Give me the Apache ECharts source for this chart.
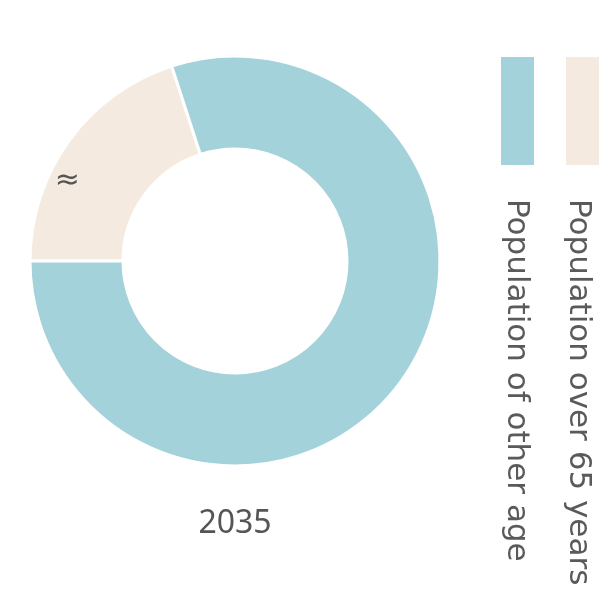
<!DOCTYPE html>
<html>
<head>
<meta charset="utf-8">
<script src="https://cdn.jsdelivr.net/npm/echarts@6/dist/echarts.min.js"></script>
<style>
  html, body { margin: 0; padding: 0; background: #fff; }
  #main { width: 613px; height: 601px; }
</style>
</head>
<body>
<div id="main"></div>
<script>
// data
const categories = ["Population over 65 years", "Population of other age"];
const values = [20, 80];
const sliceLabels = ["≈", ""];
const colors = ["#f5eadf", "#a4d2db"];
const yearTitle = "2035";

const chart = echarts.init(document.getElementById("main"));

const fontFam = "'DejaVu Sans', 'Noto Sans', sans-serif";

// legend drawn by hand, because the text is rotated
const legendX = [566, 501];
const legendTextX = [578, 516];
const legendGraphic = [];
categories.forEach(function (name, i) {
  legendGraphic.push({
    type: "rect",
    shape: { x: legendX[i], y: 57, width: 33, height: 108 },
    style: { fill: colors[i] },
  });
  legendGraphic.push({
    type: "text",
    x: legendTextX[i],
    y: 199,
    rotation: -Math.PI / 2,
    style: {
      text: name,
      fill: "#5a5a5a",
      font: "31px " + fontFam,
      textAlign: "left",
      textVerticalAlign: "middle",
    },
  });
});

chart.setOption({
  animation: false,
  title: {
    text: yearTitle,
    left: 230,
    top: 503,
    textAlign: "center",
    textStyle: { color: "#555", fontSize: 32, fontWeight: "normal", fontFamily: "'Noto Sans', sans-serif" },
  },
  graphic: legendGraphic,
  series: [
    {
      type: "pie",
      center: [235, 261],
      radius: [112, 205],
      startAngle: 180,
      clockwise: true,
      itemStyle: { borderColor: "#fff", borderWidth: 3 },
      label: {
        show: true,
        position: "inside",
        formatter: function (p) {
          return sliceLabels[p.dataIndex];
        },
        color: "#555",
        fontSize: 30,
        fontFamily: fontFam,
        offset: [-37, 15],
      },
      labelLine: { show: false },
      data: categories.map(function (c, i) {
        return { name: c, value: values[i], itemStyle: { color: colors[i] } };
      }),
    },
  ],
});
</script>
</body>
</html>
